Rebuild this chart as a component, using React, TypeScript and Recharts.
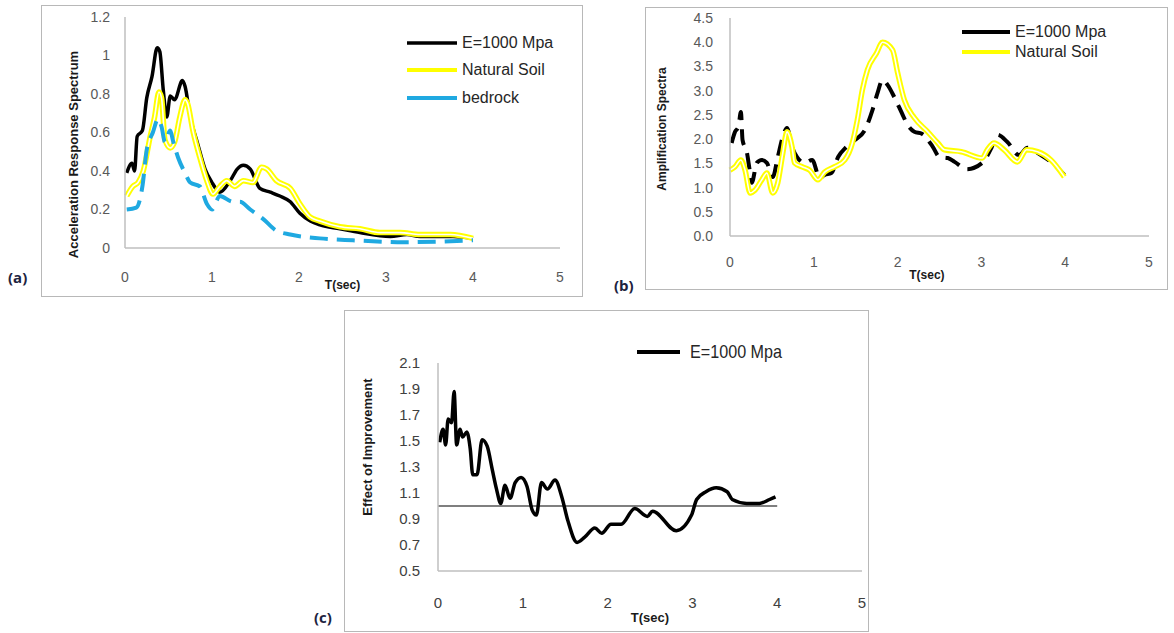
import React from 'react';
import { LineChart, Line, XAxis, YAxis, Legend } from 'recharts';

const FONT = "'Liberation Sans', Arial, sans-serif";

// ---------- Panel (a): Acceleration Response Spectrum ----------
const aTicksX = [0, 1, 2, 3, 4, 5];
const aTicksY = [0, 0.2, 0.4, 0.6, 0.8, 1, 1.2];
const aE1000T = [0.02, 0.08, 0.11, 0.14, 0.2, 0.25, 0.31, 0.37, 0.4, 0.44, 0.48, 0.52, 0.57, 0.66, 0.69, 0.75, 0.83, 0.92, 1.0, 1.06, 1.09, 1.21, 1.29, 1.36, 1.44, 1.55, 1.67, 1.78, 1.9, 2.01, 2.13, 2.24, 2.47, 2.7, 3.05, 3.24, 3.39, 3.59, 3.77, 4.0];
const aE1000V = [0.39, 0.44, 0.4, 0.58, 0.61, 0.78, 0.89, 1.04, 1.02, 0.82, 0.68, 0.79, 0.77, 0.87, 0.84, 0.68, 0.55, 0.41, 0.34, 0.3, 0.29, 0.35, 0.41, 0.43, 0.41, 0.31, 0.29, 0.27, 0.24, 0.18, 0.14, 0.12, 0.1, 0.08, 0.06, 0.07, 0.06, 0.06, 0.06, 0.05];
const aSoilT = [0.02, 0.09, 0.15, 0.21, 0.29, 0.34, 0.39, 0.42, 0.46, 0.52, 0.57, 0.63, 0.69, 0.72, 0.78, 0.86, 0.94, 1.01, 1.09, 1.17, 1.26, 1.36, 1.47, 1.57, 1.63, 1.74, 1.9, 2.01, 2.13, 2.24, 2.47, 2.7, 2.93, 3.16, 3.39, 3.74, 4.0];
const aSoilV = [0.27, 0.32, 0.34, 0.4, 0.58, 0.68, 0.81, 0.78, 0.56, 0.52, 0.55, 0.68, 0.77, 0.75, 0.61, 0.47, 0.35, 0.28, 0.32, 0.35, 0.32, 0.35, 0.34, 0.42, 0.41, 0.35, 0.31, 0.23, 0.16, 0.14, 0.11, 0.1, 0.08, 0.08, 0.07, 0.07, 0.05];
const aRockT = [0.02, 0.13, 0.2, 0.25, 0.32, 0.38, 0.42, 0.46, 0.52, 0.55, 0.61, 0.69, 0.75, 0.86, 0.94, 1.0, 1.09, 1.24, 1.32, 1.44, 1.59, 1.74, 1.9, 2.24, 2.62, 3.2, 4.0];
const aRockV = [0.2, 0.21, 0.32, 0.51, 0.6, 0.67, 0.63, 0.55, 0.61, 0.56, 0.47, 0.39, 0.34, 0.32, 0.23, 0.2, 0.27, 0.24, 0.24, 0.2, 0.15, 0.09, 0.07, 0.05, 0.04, 0.03, 0.04];

// ---------- Panel (b): Amplification Spectra ----------
const bTicksX = [0, 1, 2, 3, 4, 5];
const bTicksY = [0, 0.5, 1, 1.5, 2, 2.5, 3, 3.5, 4, 4.5];
const bE1000T = [0.02, 0.06, 0.1, 0.13, 0.15, 0.2, 0.24, 0.26, 0.32, 0.38, 0.44, 0.51, 0.57, 0.63, 0.68, 0.74, 0.8, 0.89, 0.98, 1.07, 1.13, 1.21, 1.29, 1.39, 1.49, 1.61, 1.7, 1.76, 1.82, 1.88, 1.96, 2.05, 2.12, 2.2, 2.29, 2.42, 2.5, 2.6, 2.68, 2.83, 3.01, 3.12, 3.19, 3.31, 3.45, 3.55, 3.71, 3.83, 3.99];
const bE1000V = [1.92, 2.15, 2.25, 2.56, 1.98, 1.74, 1.3, 1.1, 1.51, 1.57, 1.51, 1.22, 1.63, 2.05, 2.23, 1.84, 1.63, 1.51, 1.57, 1.2, 1.26, 1.3, 1.63, 1.84, 1.98, 2.19, 2.6, 2.95, 3.22, 3.12, 2.87, 2.54, 2.29, 2.15, 2.11, 1.84, 1.63, 1.61, 1.53, 1.38, 1.51, 1.82, 2.09, 1.94, 1.67, 1.82, 1.67, 1.53, 1.26];
const bSoilT = [0.0, 0.06, 0.13, 0.18, 0.24, 0.3, 0.38, 0.44, 0.51, 0.57, 0.63, 0.68, 0.74, 0.77, 0.86, 0.95, 1.05, 1.13, 1.25, 1.37, 1.46, 1.52, 1.58, 1.64, 1.75, 1.82, 1.94, 2.0, 2.08, 2.2, 2.36, 2.48, 2.56, 2.76, 3.01, 3.07, 3.15, 3.27, 3.43, 3.54, 3.67, 3.83, 3.99];
const bSoilV = [1.36, 1.43, 1.57, 1.36, 0.89, 0.95, 1.16, 1.3, 0.89, 1.1, 1.71, 2.15, 1.84, 1.51, 1.43, 1.36, 1.16, 1.32, 1.43, 1.57, 1.92, 2.4, 3.02, 3.43, 3.78, 4.0, 3.84, 3.37, 2.81, 2.44, 2.15, 1.92, 1.78, 1.74, 1.61, 1.78, 1.92, 1.78, 1.53, 1.78, 1.74, 1.57, 1.22];

// ---------- Panel (c): Effect of Improvement ----------
const cTicksX = [0, 1, 2, 3, 4, 5];
const cTicksY = [0.5, 0.7, 0.9, 1.1, 1.3, 1.5, 1.7, 1.9, 2.1];
const cE1000T = [0.02, 0.06, 0.09, 0.12, 0.16, 0.19, 0.22, 0.26, 0.29, 0.34, 0.38, 0.41, 0.46, 0.52, 0.58, 0.64, 0.69, 0.74, 0.79, 0.85, 0.91, 0.98, 1.05, 1.11, 1.16, 1.22, 1.29, 1.38, 1.46, 1.53, 1.64, 1.73, 1.85, 1.93, 2.04, 2.16, 2.32, 2.47, 2.53, 2.81, 2.99, 3.05, 3.16, 3.28, 3.41, 3.47, 3.64, 3.79, 3.91, 3.98];
const cE1000V = [1.49, 1.59, 1.47, 1.67, 1.64, 1.88, 1.47, 1.59, 1.53, 1.57, 1.44, 1.24, 1.24, 1.51, 1.46, 1.28, 1.13, 1.02, 1.16, 1.06, 1.18, 1.22, 1.15, 0.97, 0.93, 1.18, 1.13, 1.2, 1.07, 0.89, 0.72, 0.76, 0.83, 0.79, 0.86, 0.86, 0.98, 0.92, 0.96, 0.81, 0.93, 1.05, 1.11, 1.14, 1.11, 1.05, 1.02, 1.02, 1.05, 1.07];
const cRefT = [0, 4];
const cRefV = [1, 1];

const zip = (t: number[], v: number[]) => t.map((x, i) => ({ t: x, v: v[i] }));

const AXIS_STROKE = { stroke: '#bfbfbf', strokeWidth: 1.5 };

function yTitle(text: string, dx: number, dy: number, size: number) {
  return (props: any) => {
    const vb = props.viewBox || { x: 0, y: 0, width: 0, height: 0 };
    const cx = vb.x + dx;
    const cy = vb.y + vb.height / 2 + dy;
    return (
      <text x={cx} y={cy} transform={`rotate(-90 ${cx} ${cy})`} textAnchor="middle" dominantBaseline="central"
        fontFamily={FONT} fontSize={size} fontWeight="bold" fill="#1a1a1a">{text}</text>
    );
  };
}

function xTitle(text: string, frac: number, dy: number, size: number) {
  return (props: any) => {
    const vb = props.viewBox || { x: 0, y: 0, width: 0, height: 0 };
    const cx = vb.x + vb.width * frac;
    const cy = vb.y + dy;
    return (
      <text x={cx} y={cy} textAnchor="middle" dominantBaseline="central"
        fontFamily={FONT} fontSize={size} fontWeight="bold" fill="#1a1a1a">{text}</text>
    );
  };
}

type LegItem = { name: string; color: string; width: number };
function legendContent(items: LegItem[], swatchW: number, rowH: number, fontSize: number, gap: number, squeeze: number) {
  return () => (
    <div style={{ fontFamily: FONT, fontSize, color: '#262626' }}>
      {items.map((it) => (
        <div key={it.name} style={{ display: 'flex', alignItems: 'center', height: rowH, whiteSpace: 'nowrap' }}>
          <svg width={swatchW} height={8} style={{ display: 'block' }}>
            <line x1={0} y1={4} x2={swatchW} y2={4} stroke={it.color} strokeWidth={it.width} />
          </svg>
          <span style={{ marginLeft: gap, display: 'inline-block', transform: `scaleX(${squeeze})`, transformOrigin: 'left center' }}>{it.name}</span>
        </div>
      ))}
    </div>
  );
}

const frameStyle = (l: number, t: number, w: number, h: number): React.CSSProperties => ({
  position: 'absolute', left: l, top: t, width: w, height: h, border: '1.5px solid #b8b8b8', boxSizing: 'border-box',
});
const boxStyle = (l: number, t: number, w: number, h: number): React.CSSProperties => ({
  position: 'absolute', left: l, top: t, width: w, height: h,
});
const panelLabel = (l: number, t: number): React.CSSProperties => ({
  position: 'absolute', left: l, top: t, fontFamily: "'Open Sans', 'Liberation Sans', sans-serif", fontWeight: 'bold', fontSize: 15, color: '#1d2340',
});

const legA: LegItem[] = [
  { name: 'E=1000 Mpa', color: '#000000', width: 3.5 },
  { name: 'Natural Soil', color: '#ffff00', width: 4 },
  { name: 'bedrock', color: '#1fa9e1', width: 4 },
];
const legB: LegItem[] = [
  { name: 'E=1000 Mpa', color: '#000000', width: 4 },
  { name: 'Natural Soil', color: '#ffff00', width: 4 },
];
const legC: LegItem[] = [{ name: 'E=1000 Mpa', color: '#000000', width: 4 }];

export default function App() {
  const tickA = { fill: '#595959', fontSize: 14, fontFamily: FONT };
  const tickC = { fill: '#404040', fontSize: 15, fontFamily: FONT };
  return (
    <div style={{ position: 'absolute', left: 0, top: 0, width: 1174, height: 633, background: '#fff', overflow: 'hidden' }}>
      {/* Panel (a) */}
      <div style={frameStyle(41, 5, 542, 292)} />
      <div style={boxStyle(41, 5, 542, 292)}>
        <LineChart width={542} height={292} margin={{ top: 12, right: 23, left: 44, bottom: 19 }}>
          <XAxis type="number" dataKey="t" domain={[0, 5]} ticks={aTicksX} tickLine={false} tickSize={0} tickMargin={24}
            axisLine={AXIS_STROKE} tick={tickA} height={30} label={xTitle('T(sec)', 0.5, 37, 12)} />
          <YAxis type="number" dataKey="v" domain={[0, 1.2]} ticks={aTicksY} tickLine={false} tickSize={0} tickMargin={15}
            axisLine={AXIS_STROKE} tick={tickA} width={40} label={yTitle('Acceleration Response Spectrum', -12, 22, 13)} />
          <Line data={zip(aE1000T, aE1000V)} dataKey="v" type="monotone" stroke="#000" strokeWidth={3.5} dot={false} isAnimationActive={false} />
          <Line data={zip(aSoilT, aSoilV)} dataKey="v" type="monotone" stroke="#ffff00" strokeWidth={5.5} dot={false} isAnimationActive={false} />
          <Line data={zip(aSoilT, aSoilV)} dataKey="v" type="monotone" stroke="#ffffff" strokeWidth={1.6} dot={false} isAnimationActive={false} legendType="none" />
          <Line data={zip(aRockT, aRockV)} dataKey="v" type="monotone" stroke="#1fa9e1" strokeWidth={4} strokeDasharray="18 9" dot={false} isAnimationActive={false} />
          <Legend layout="vertical" align="center" verticalAlign="middle" content={legendContent(legA, 50, 27.5, 16, 5, 1)}
            wrapperStyle={{ left: 366, top: 24, width: 'auto' }} />
        </LineChart>
      </div>
      <div style={panelLabel(8, 267)}>(a)</div>

      {/* Panel (b) */}
      <div style={frameStyle(645, 7, 523, 283)} />
      <div style={boxStyle(645, 7, 523, 283)}>
        <LineChart width={523} height={283} margin={{ top: 11, right: 19, left: 45, bottom: 24 }}>
          <XAxis type="number" dataKey="t" domain={[0, 5]} ticks={bTicksX} tickLine={false} tickSize={0} tickMargin={21}
            axisLine={AXIS_STROKE} tick={tickA} height={30} label={xTitle('T(sec)', 0.47, 39, 12)} />
          <YAxis type="number" dataKey="v" domain={[0, 4.5]} ticks={bTicksY} tickLine={false} tickSize={0} tickMargin={17}
            tickFormatter={(v: number) => v.toFixed(1)}
            axisLine={AXIS_STROKE} tick={tickA} width={40} label={yTitle('Amplification Spectra', -28, 2, 12)} />
          <Line data={zip(bE1000T, bE1000V)} dataKey="v" type="monotone" stroke="#000" strokeWidth={4} strokeDasharray="16 9" dot={false} isAnimationActive={false} />
          <Line data={zip(bSoilT, bSoilV)} dataKey="v" type="monotone" stroke="#ffff00" strokeWidth={5.5} dot={false} isAnimationActive={false} />
          <Line data={zip(bSoilT, bSoilV)} dataKey="v" type="monotone" stroke="#ffffff" strokeWidth={1.6} dot={false} isAnimationActive={false} legendType="none" />
          <Legend layout="vertical" align="center" verticalAlign="middle" content={legendContent(legB, 48, 20, 16, 5, 1)}
            wrapperStyle={{ left: 317, top: 15, width: 'auto' }} />
        </LineChart>
      </div>
      <div style={panelLabel(614, 275)}>(b)</div>

      {/* Panel (c) */}
      <div style={frameStyle(344, 310, 525, 322)} />
      <div style={boxStyle(344, 310, 525, 322)}>
        <LineChart width={525} height={322} margin={{ top: 53, right: 7, left: 54, bottom: 31 }}>
          <XAxis type="number" dataKey="t" domain={[0, 5]} ticks={cTicksX} tickLine={false} tickSize={0} tickMargin={26}
            axisLine={AXIS_STROKE} tick={tickC} height={30} label={xTitle('T(sec)', 0.5, 46, 13)} />
          <YAxis type="number" dataKey="v" domain={[0.5, 2.1]} ticks={cTicksY} tickLine={false} tickSize={0} tickMargin={18}
            tickFormatter={(v: number) => v.toFixed(1)}
            axisLine={AXIS_STROKE} tick={tickC} width={40} label={yTitle('Effect of Improvement', -31, -20, 13)} />
          <Line data={zip(cRefT, cRefV)} dataKey="v" type="linear" stroke="#555" strokeWidth={1.3} dot={false} isAnimationActive={false} legendType="none" />
          <Line data={zip(cE1000T, cE1000V)} dataKey="v" type="monotone" stroke="#000" strokeWidth={3.5} dot={false} isAnimationActive={false} />
          <Legend layout="vertical" align="center" verticalAlign="middle" content={legendContent(legC, 43, 24, 19, 10, 0.85)}
            wrapperStyle={{ left: 293, top: 30, width: 'auto' }} />
        </LineChart>
      </div>
      <div style={panelLabel(314, 607)}>(c)</div>
    </div>
  );
}
